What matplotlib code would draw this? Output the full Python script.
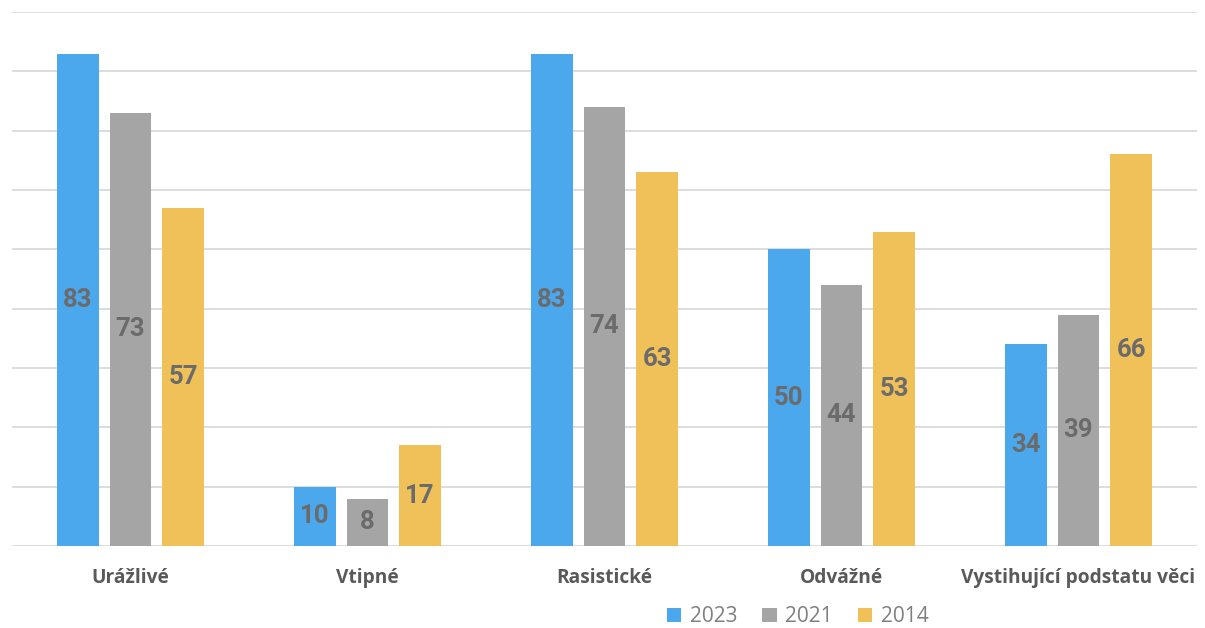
import numpy as np
import matplotlib.pyplot as plt

categories = ["Urážlivé", "Vtipné", "Rasistické", "Odvážné", "Vystihující podstatu věci"]
years = ["2023", "2021", "2014"]
v2023 = [83, 10, 83, 50, 34]
v2021 = [73, 8, 74, 44, 39]
v2014 = [57, 17, 63, 53, 66]
colors = ["#4BA8ED", "#A5A5A5", "#F0C159"]

fig = plt.figure(figsize=(12.05, 6.28), dpi=100)
ax = fig.add_axes([0.00996, 0.1306, 0.9834, 0.8503])

x = np.arange(len(categories))
width = 0.175
step = 0.222
series = [v2023, v2021, v2014]
for i, (vals, col, yr) in enumerate(zip(series, colors, years)):
    pos = x + (i - 1) * step
    bars = ax.bar(pos, vals, width, color=col, label=yr, zorder=2)
    for b, v in zip(bars, vals):
        ax.text(b.get_x() + b.get_width() / 2, v / 2, str(v), ha="center", va="center",
                fontsize=18.5, fontweight="bold", color="#6B6B6B", family="Roboto", zorder=3)

ax.set_xlim(-0.5, len(categories) - 0.5)
ax.set_ylim(0, 90)
ax.set_yticks(np.arange(0, 91, 10))
ax.yaxis.grid(True, color="#DDDDDD", lw=1.4, zorder=0)
ax.set_yticklabels([])
ax.tick_params(axis="both", length=0)
for s in ax.spines.values():
    s.set_visible(False)
ax.set_xticks(x)
ax.set_xticklabels(categories, fontsize=13.8, fontweight="bold", color="#595959", family="Open Sans")
ax.tick_params(axis="x", pad=16)

leg = fig.legend(loc="center", bbox_to_anchor=(0.662, 0.018), ncol=3, frameon=False,
                 prop={"family": "Open Sans", "size": 15}, handlelength=0.7, handleheight=0.7,
                 handletextpad=0.4, columnspacing=1.2)
for t in leg.get_texts():
    t.set_color("#7F7F7F")

fig.savefig("out.png", dpi=100)
